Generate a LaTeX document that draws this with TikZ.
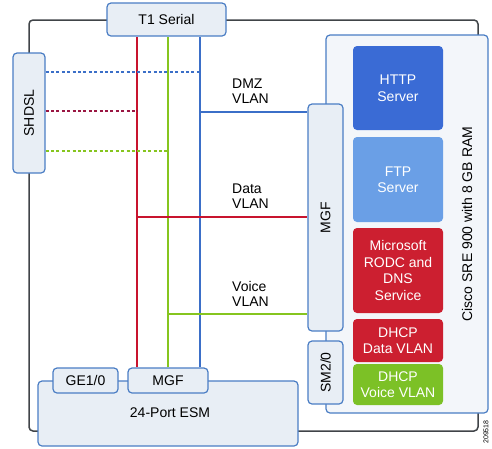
\documentclass[tikz,border=0pt]{standalone}
\usepackage{fontspec}
\setmainfont{Liberation Sans}
\usepackage{tikz}
\usetikzlibrary{positioning}

\definecolor{chassis}{HTML}{404448}
\definecolor{boxline}{HTML}{4A7DC4}
\definecolor{boxfill}{HTML}{E8EEF5}
\definecolor{srefill}{HTML}{F3F6FA}
\definecolor{httpblue}{HTML}{3A6BD5}
\definecolor{ftpblue}{HTML}{6A9FE6}
\definecolor{svcred}{HTML}{CC1F30}
\definecolor{svcgreen}{HTML}{7CC126}
\definecolor{vlanred}{HTML}{C8142E}
\definecolor{vlangreen}{HTML}{86C51F}
\definecolor{vlanblue}{HTML}{3B6FC8}
\definecolor{dashred}{HTML}{9A1642}

\tikzset{
  port/.style={draw=boxline,fill=boxfill,line width=1.2pt,rounded corners=4pt,
    inner sep=0pt,font=\fontsize{14}{15}\selectfont},
  svc/.style={rounded corners=4pt,inner sep=0pt,text=white,align=center,
    minimum width=90pt,font=\fontsize{14}{16.5}\selectfont},
  vlan/.style={line width=2pt},
  tagged/.style={line width=2pt,dash pattern=on 3pt off 2.4pt},
  lbl/.style={align=left,inner sep=0pt,anchor=west,font=\fontsize{14}{15}\selectfont}
}

\begin{document}
\begin{tikzpicture}[x=1pt,y=-1pt]
  \useasboundingbox (0,0) rectangle (492,448);
  % router chassis
  \draw[chassis,line width=1.5pt,rounded corners=4pt] (29,20) rectangle (478,431);

  % service module
  \node[port,fill=srefill,minimum width=162pt,minimum height=378pt] (sre) at (407,224) {};
  \node[svc,fill=httpblue,minimum height=84pt] (http) at (398,88) {HTTP\\Server};
  \node[svc,fill=ftpblue,minimum height=85pt] (ftp) at (398,179.5) {FTP\\Server};
  \node[svc,fill=svcred,minimum height=85pt] (rodc) at (398,270.5) {Microsoft\\RODC and\\DNS\\Service};
  \node[svc,fill=svcred,minimum height=43pt] (dhcpdata) at (398,340.5) {DHCP\\Data VLAN};
  \node[svc,fill=svcgreen,minimum height=41pt] (dhcpvoice) at (398,384.5) {DHCP\\Voice VLAN};
  \node[rotate=90,font=\fontsize{14}{15}\selectfont] (srelbl) at (467,224) {Cisco SRE 900 with 8 GB RAM};
  \node[port,minimum width=35pt,minimum height=227pt] (mgf) at (325.5,217.5) {};
  \node[rotate=90,font=\fontsize{14}{15}\selectfont] at (mgf) {MGF};
  \node[port,minimum width=35pt,minimum height=63pt] (sm) at (325.5,372.5) {};
  \node[rotate=90,font=\fontsize{14}{15}\selectfont] at (sm) {SM2/0};

  % switch module
  \node[port,minimum width=260pt,minimum height=65pt] (esm) at (168,413.5) {};
  \node[font=\fontsize{14}{15}\selectfont] at (170,413) {24-Port ESM};
  \node[port,minimum width=65pt,minimum height=25pt] (ge) at (85.5,380.5) {GE1/0};
  \node[port,minimum width=80pt,minimum height=25pt] (mgfesm) at (168,380.5) {MGF};

  % WAN interfaces
  \node[port,minimum width=119pt,minimum height=33pt] (t1) at (166.5,19.5) {T1 Serial};
  \node[port,minimum width=32pt,minimum height=120pt] (shdsl) at (29,113) {};
  \node[rotate=90,font=\fontsize{14}{15}\selectfont] at (shdsl) {SHDSL};

  % VLAN trunks
  \coordinate (rbot) at ([xshift=10pt]mgfesm.north west);
  \coordinate (gbot) at (mgfesm.north);
  \coordinate (bbot) at ([xshift=-9pt]mgfesm.north east);
  \draw[vlan,vlanred] (rbot) -- (rbot |- t1.south);
  \draw[vlan,vlangreen] (gbot) -- (gbot |- t1.south);
  \draw[vlan,vlanblue] (bbot) -- (bbot |- t1.south);

  \coordinate (dmz) at (199,112);
  \coordinate (data) at (138,217);
  \coordinate (voice) at (168,314);
  \draw[vlan,vlanblue] (dmz) -- (dmz -| mgf.west);
  \draw[vlan,vlanred] (data) -- (data -| mgf.west);
  \draw[vlan,vlangreen] (voice) -- (voice -| mgf.west);

  \coordinate (sdmz) at (199,72);
  \coordinate (sdata) at (138,111);
  \coordinate (svoice) at (168,151);
  \draw[tagged,vlanblue] (sdmz -| shdsl.east) -- (sdmz);
  \draw[tagged,dashred] (sdata -| shdsl.east) -- (sdata);
  \draw[tagged,vlangreen] (svoice -| shdsl.east) -- (svoice);

  \node[lbl] (ldmz) at (232,91) {DMZ\\VLAN};
  \node[lbl] (ldata) at (232,196) {Data\\VLAN};
  \node[lbl] (lvoice) at (232,294) {Voice\\VLAN};

  \node[rotate=90,font=\fontsize{7}{8}\selectfont,inner sep=0pt] (fig) at (486,432) {209518};
\end{tikzpicture}
\end{document}
